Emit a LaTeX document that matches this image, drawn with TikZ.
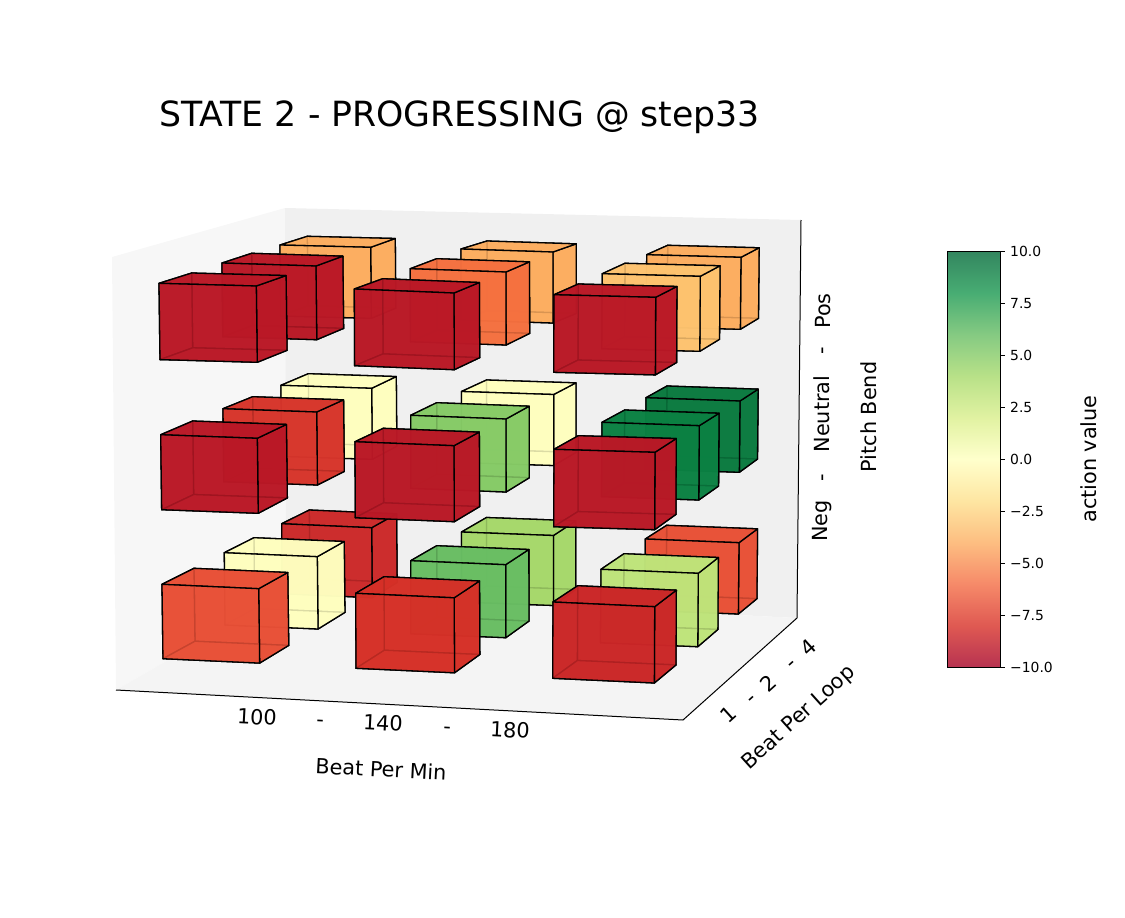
\documentclass[tikz,border=0pt]{standalone}
\usepackage{fontspec}
\setmainfont{DejaVu Sans}
\usetikzlibrary{positioning}

\definecolor{cubered}{HTML}{BA1826}
\definecolor{cubeorange}{HTML}{FDAD5F}
\definecolor{cubeyellow}{HTML}{FFFFBF}
\definecolor{cubegreen}{HTML}{0A7A3F}

% colormap with the alpha of the bars
\pgfdeclareverticalshading{cbarshade}{100bp}{rgb(0bp)=(.718,.200,.318); rgb(25bp)=(.718,.200,.318); rgb(30bp)=(.875,.349,.322); rgb(35bp)=(.965,.541,.412); rgb(40bp)=(.992,.745,.506); rgb(45bp)=(.996,.902,.635); rgb(50bp)=(1,1,.8); rgb(55bp)=(.882,.949,.635); rgb(60bp)=(.722,.882,.533); rgb(65bp)=(.522,.792,.510); rgb(70bp)=(.282,.678,.451); rgb(75bp)=(.200,.525,.373); rgb(100bp)=(.200,.525,.373)}

\newcommand{\barcube}[8]{
	\pgfmathsetmacro{\lean}{(450-#1)/300}
	\coordinate (ftl) at (#1,#2);
	\coordinate (ftr) at (#1+#3,#2+#4);
	\coordinate (fbl) at (#1+\lean,#2+#5);
	\coordinate (fbr) at (#1+#3+\lean,#2+#4+#5);
	\coordinate (btl) at (#1+#6,#2+#7);
	\coordinate (btr) at (#1+#6+.97*#3,#2+#7+.95*#4);
	\coordinate (bbl) at (#1+#6+\lean,#2+#7+.98*#5);
	\coordinate (bbr) at (#1+#6+.97*#3+\lean,#2+#7+.95*#4+.98*#5);
	\draw [face=#8] (btl) -- (btr) -- (bbr) -- (bbl) -- cycle;
	\draw [face=#8] (ftl) -- (btl) -- (bbl) -- (fbl) -- cycle;
	\draw [face=#8] (fbl) -- (fbr) -- (bbr) -- (bbl) -- cycle;
	\draw [face=#8] (ftr) -- (btr) -- (bbr) -- (fbr) -- cycle;
	\draw [face=#8] (ftl) -- (btl) -- (btr) -- (ftr) -- cycle;
	\draw [face=#8] (ftl) -- (ftr) -- (fbr) -- (fbl) -- cycle;
}

\begin{document}
\begin{tikzpicture}[
	x=1pt, y=-1pt,
	face/.style={fill=#1, fill opacity=.86, draw=black, line width=1.3pt, line join=round},
	axisline/.style={draw=black, line width=1pt},
	ticklabel/.style={font=\fontsize{20.8}{24}\selectfont, inner sep=0pt},
	axislabel/.style={font=\fontsize{20.8}{24}\selectfont, inner sep=0pt},
	cbarlabel/.style={font=\fontsize{13.9}{16}\selectfont, anchor=west, inner sep=0pt},
	]
	
	\useasboundingbox (0,0) rectangle (1125,918);
	
	\coordinate (lefttop) at (112,257);
	\coordinate (backtop) at (285,208);
	\coordinate (righttop) at (801,220);
	\coordinate (backfloor) at (286,592);
	\coordinate (rightfloor) at (797,618);
	\coordinate (leftfloor) at (116,690);
	\coordinate (frontfloor) at (683,720);
	
	\fill [black!3] (lefttop) -- (backtop) -- (backfloor) -- (leftfloor) -- cycle;
	\fill [black!6] (backtop) -- (righttop) -- (rightfloor) -- (backfloor) -- cycle;
	\fill [black!4.5] (leftfloor) -- (frontfloor) -- (rightfloor) -- (backfloor) -- cycle;
	\draw [axisline] (leftfloor) -- (frontfloor) -- (rightfloor) -- (righttop);
	
	\foreach \cx/\cy/\cw/\cs/\ch/\cdx/\cdy/\cc in {
		% Neg
		281.7/523.7/90/4/70/27.6/-13.7/{rgb,255:red,204;green,42;blue,42},
		461.5/532/92/3.5/70/25/-14.5/{rgb,255:red,166;green,216;blue,106},
		645.3/539/93.7/3.7/71.3/21.4/-13.7/{rgb,255:red,232;green,80;blue,54},
		224.3/552.7/93/4/72.3/29.7/-15/cubeyellow,
		410.7/560.7/95/4/73/26/-15/{rgb,255:red,105;green,190;blue,99},
		601/569.3/97.3/4/73.4/23/-15.6/{rgb,255:red,191;green,228;blue,122},
		162/584.3/96.7/4.4/74.4/32/-16/{rgb,255:red,232;green,79;blue,54},
		355.7/593.3/98.5/4.5/75/28.3/-16.6/{rgb,255:red,214;green,48;blue,39},
		553/602/101.7/4.7/76.3/24.7/-16.3/{rgb,255:red,203;green,38;blue,39},
		% Neutral
		281/385.3/90.7/3/71/27.3/-11.6/cubeyellow,
		461.5/391.5/92.2/3/71/25/-11.5/cubeyellow,
		646/397.7/94/3.3/71.3/21/-11.7/cubegreen,
		223/408.7/93.7/3.3/73/29.7/-12/{rgb,255:red,215;green,53;blue,43},
		410.7/415.3/95.3/3.7/73/26/-12.6/{rgb,255:red,134;green,203;blue,102},
		602/422.3/97.3/3.4/74.3/22.7/-12.3/{rgb,255:red,11;green,129;blue,67},
		160.7/434.7/96.6/3.6/75/32/-13.7/cubered,
		355/441.7/99/4/76/28.3/-13.4/cubered,
		554/449.3/101/3/77.4/24.3/-13.6/cubered,
		% Pos
		280/245/90.7/2.3/71/27.3/-8.7/cubeorange,
		461/249/92/3/71/26/-8/cubeorange,
		646.7/254.7/94.3/2.6/72/21/-9.4/cubeorange,
		222/263/94/3/73.7/29.7/-9.7/cubered,
		410.3/268.7/95.7/3.3/73/26.4/-10/{rgb,255:red,245;green,112;blue,63},
		602.3/273.7/98/2.6/75/22.7/-10.4/{rgb,255:red,254;green,195;blue,111},
		159/283.3/97.3/2.7/76.3/32.7/-10.3/cubered,
		354.3/289/99.7/4/76.7/28.4/-10.3/cubered,
		554/294.7/101.7/2.6/77.6/24.3/-10.7/cubered%
	} {
		\barcube{\cx}{\cy}{\cw}{\cs}{\ch}{\cdx}{\cdy}{\cc}
	}
	
	\node [font=\fontsize{34.7}{40}\selectfont, anchor=base west, inner sep=0pt] (title) at (159,126) {STATE 2 - PROGRESSING @ step33};
	
	\node [ticklabel, rotate=-3] (bpm1) at (257,717) {100};
	\node [ticklabel, rotate=-3] (bpmdash1) at (320,723) {-};
	\node [ticklabel, rotate=-3] (bpm2) at (383,723) {140};
	\node [ticklabel, rotate=-3] (bpmdash2) at (447,730) {-};
	\node [ticklabel, rotate=-3] (bpm3) at (510,730) {180};
	\node [axislabel, rotate=-3] (bpmlabel) at (381,769) {Beat Per Min};
	
	\node [ticklabel, rotate=42] (loop1) at (728,714) {1};
	\node [ticklabel, rotate=42] (loopdash1) at (753,701) {-};
	\node [ticklabel, rotate=42] (loop2) at (768,683) {2};
	\node [ticklabel, rotate=42] (loopdash2) at (793,666) {-};
	\node [ticklabel, rotate=42] (loop3) at (808,647) {4};
	\node [axislabel, rotate=42] (looplabel) at (799,718) {Beat Per Loop};
	
	\node [ticklabel, rotate=90] (pitch1) at (822,521) {Neg};
	\node [ticklabel, rotate=90] (pitchdash1) at (825,478) {-};
	\node [ticklabel, rotate=90] (pitch2) at (822,414) {Neutral};
	\node [ticklabel, rotate=90] (pitchdash2) at (825,351) {-};
	\node [ticklabel, rotate=90] (pitch3) at (823,311) {Pos};
	\node [axislabel, rotate=90] (pitchlabel) at (869,417) {Pitch Bend};
	
	\shade [shading=cbarshade] (947.5,251.5) rectangle (1000,667);
	\draw [line width=1pt] (947.5,251.5) rectangle (1000,667);
	\foreach \ty/\tv in {251.5/10.0, 303.4/7.5, 355.4/5.0, 407.3/2.5, 459.25/0.0, 511.2/−2.5, 563.1/−5.0, 615.1/−7.5, 667/−10.0} {
		\draw [line width=1pt] (1000,\ty) -- (1005,\ty);
		\node [cbarlabel] (tick\tv) at (1010,\ty) {\tv};
	}
	\node [axislabel, rotate=90] (cbarlabel) at (1089,459) {action value};
\end{tikzpicture}
\end{document}
